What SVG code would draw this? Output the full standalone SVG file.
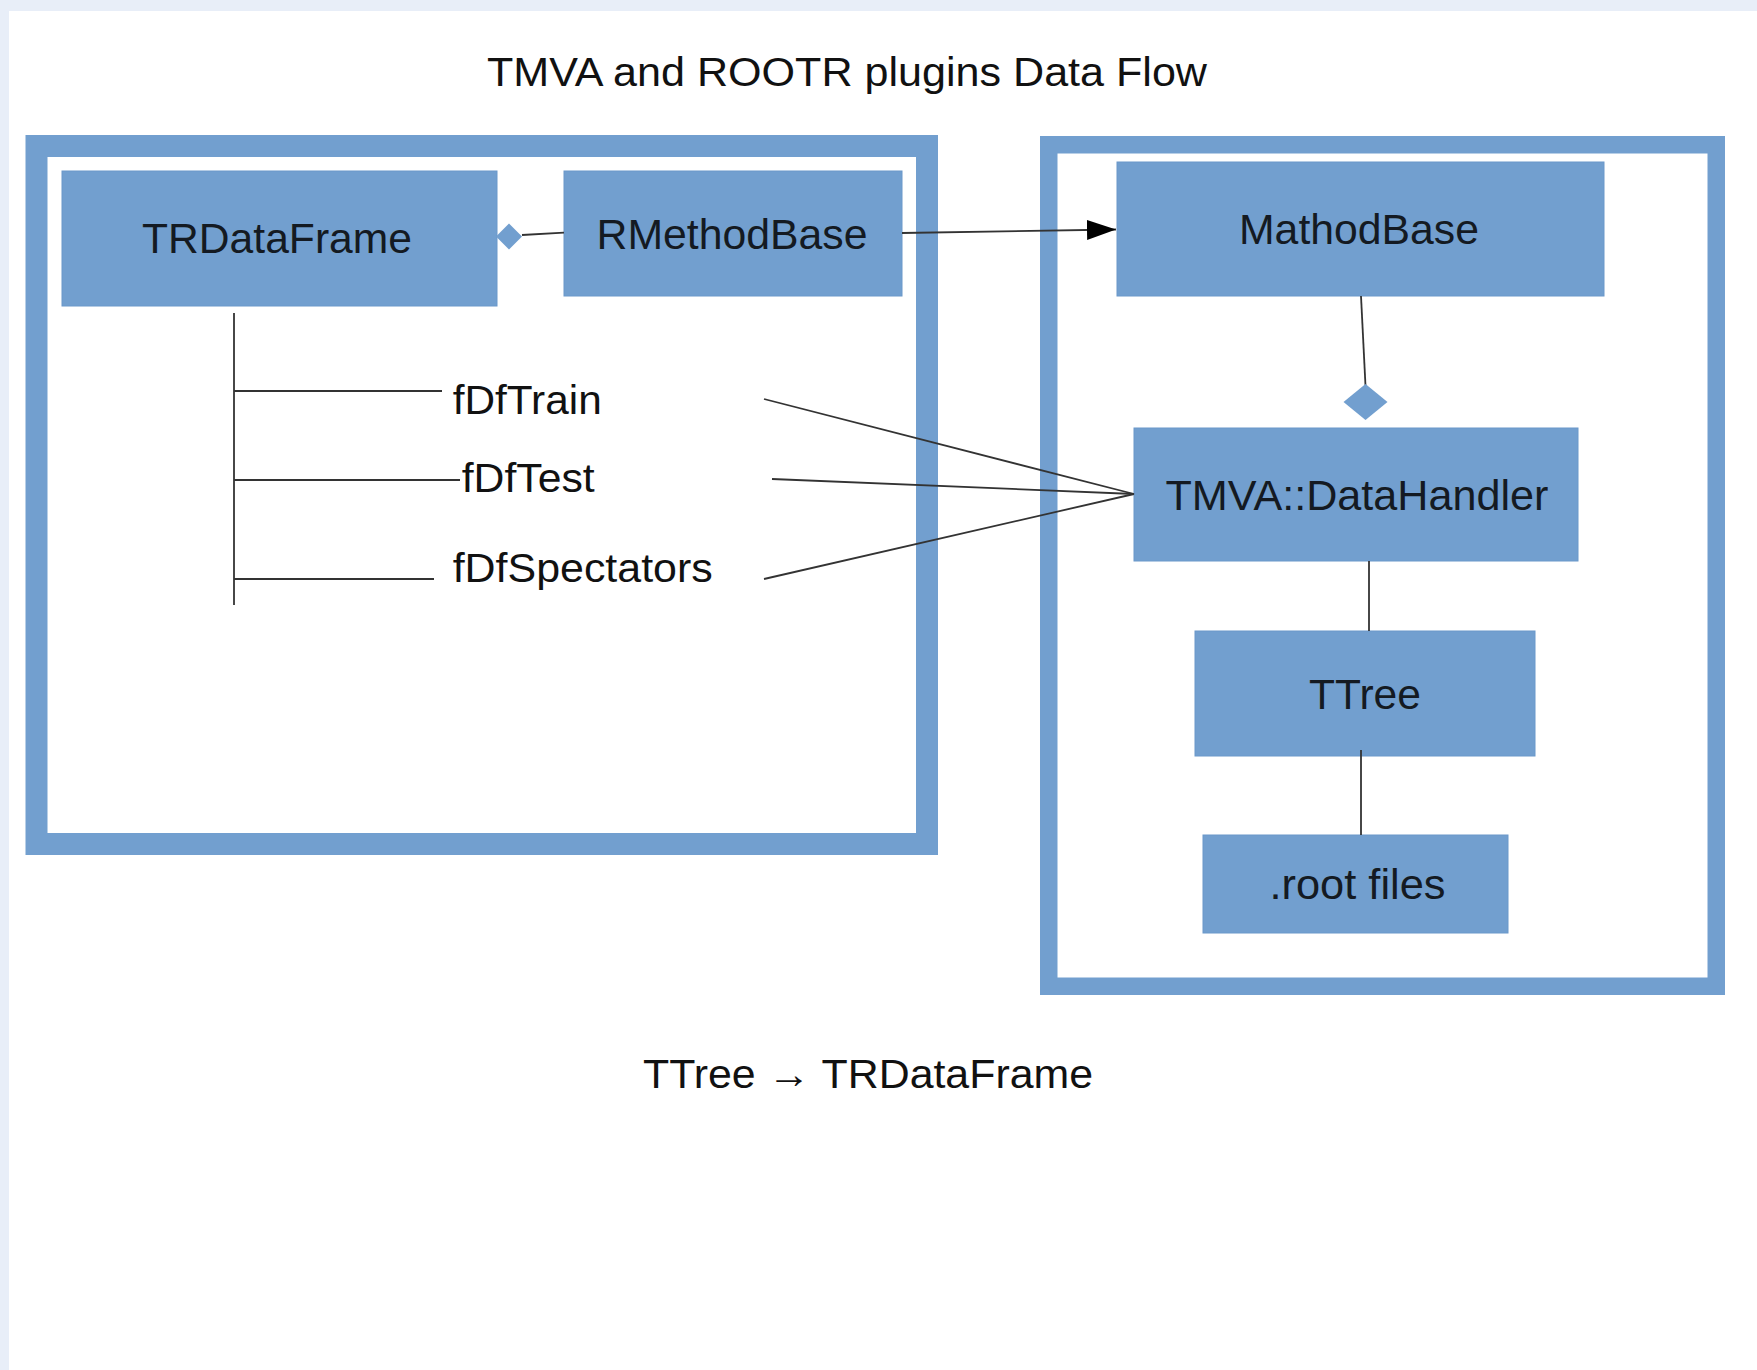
<svg xmlns="http://www.w3.org/2000/svg" width="1757" height="1370" viewBox="0 0 1757 1370">
  <defs>
    <style>
      .frame { fill: none; stroke: #729fcf; }
      .box { fill: #729fcf; stroke: #6b98ca; stroke-width: 1; }
      .lbl { font-family: "Liberation Sans", Arial, sans-serif; font-size: 42px; fill: #141a22; text-anchor: middle; }
      .txt { font-family: "Liberation Sans", Arial, sans-serif; font-size: 40px; fill: #111111; }
      .conn { fill: none; stroke: #333333; stroke-width: 1.8; }
      .dia { fill: #729fcf; stroke: none; }
    </style>
    <marker id="arrow" markerWidth="30" markerHeight="20" refX="29" refY="10" orient="auto" markerUnits="userSpaceOnUse">
      <path d="M0,0 L29,10 L0,20 Z" fill="#000000"/>
    </marker>
  </defs>

  <rect x="0" y="0" width="1757" height="1370" fill="#e8eef8"/>
  <rect x="9" y="11" width="1748" height="1359" fill="#ffffff"/>

  <text id="title" class="txt" x="847" y="86" font-size="41" text-anchor="middle" textLength="720" lengthAdjust="spacingAndGlyphs">TMVA and ROOTR plugins Data Flow</text>

  <g id="frame-rootr">
    <rect class="frame" x="36.5" y="146" width="890.5" height="698" stroke-width="22"/>
  </g>
  <g id="frame-tmva">
    <rect class="frame" x="1048.75" y="144.75" width="667.5" height="841.5" stroke-width="17.5"/>
  </g>

  <g id="node-trdataframe">
    <rect class="box" x="62" y="171" width="435" height="135"/>
    <text class="lbl" x="277" y="253" textLength="270" lengthAdjust="spacingAndGlyphs">TRDataFrame</text>
  </g>
  <g id="node-rmethodbase">
    <rect class="box" x="564" y="171" width="338" height="125"/>
    <text class="lbl" x="732" y="248.5" textLength="271" lengthAdjust="spacingAndGlyphs">RMethodBase</text>
  </g>
  <g id="node-mathodbase">
    <rect class="box" x="1117" y="162" width="487" height="134"/>
    <text class="lbl" x="1359" y="244" textLength="240" lengthAdjust="spacingAndGlyphs">MathodBase</text>
  </g>
  <g id="node-datahandler">
    <rect class="box" x="1134" y="428" width="444" height="133"/>
    <text class="lbl" x="1357" y="509.5" textLength="383" lengthAdjust="spacingAndGlyphs">TMVA::DataHandler</text>
  </g>
  <g id="node-ttree">
    <rect class="box" x="1195" y="631" width="340" height="125"/>
    <text class="lbl" x="1365" y="709" textLength="112" lengthAdjust="spacingAndGlyphs">TTree</text>
  </g>
  <g id="node-rootfiles">
    <rect class="box" x="1203" y="835" width="305" height="98"/>
    <text class="lbl" x="1357.5" y="899" textLength="176" lengthAdjust="spacingAndGlyphs">.root files</text>
  </g>

  <g id="label-fdftrain">
    <text class="txt" x="452.7" y="414.3" textLength="149" lengthAdjust="spacingAndGlyphs">fDfTrain</text>
  </g>
  <g id="label-fdftest">
    <text class="txt" x="461.7" y="492" textLength="133" lengthAdjust="spacingAndGlyphs">fDfTest</text>
  </g>
  <g id="label-fdfspectators">
    <text class="txt" x="452.7" y="582" textLength="260" lengthAdjust="spacingAndGlyphs">fDfSpectators</text>
  </g>

  <g id="connectors">
    <!-- TRDataFrame tree -->
    <line class="conn" x1="234" y1="313" x2="234" y2="605"/>
    <line class="conn" x1="234" y1="391" x2="442" y2="391"/>
    <line class="conn" x1="234" y1="480" x2="460" y2="480"/>
    <line class="conn" x1="234" y1="579" x2="434" y2="579"/>
    <!-- TRDataFrame diamond - RMethodBase -->
    <polygon class="dia" points="496,236.5 509,223.5 522,236.5 509,249.5"/>
    <line class="conn" x1="522" y1="235" x2="564" y2="232.7"/>
    <!-- RMethodBase -> MathodBase -->
    <line class="conn" x1="902" y1="233" x2="1116" y2="229.5" marker-end="url(#arrow)"/>
    <!-- MathodBase - diamond - DataHandler -->
    <line class="conn" x1="1361" y1="296" x2="1365.5" y2="386"/>
    <polygon class="dia" points="1343.5,402 1365.5,384 1387.5,402 1365.5,420"/>
    <!-- fDf* -> DataHandler -->
    <line class="conn" x1="764" y1="399" x2="1134" y2="494"/>
    <line class="conn" x1="772" y1="479" x2="1134" y2="494"/>
    <line class="conn" x1="764" y1="579" x2="1134" y2="494"/>
    <!-- DataHandler - TTree - root files -->
    <line class="conn" x1="1369" y1="561" x2="1369" y2="631"/>
    <line class="conn" x1="1361" y1="750" x2="1361" y2="835"/>
  </g>

  <text id="caption" class="txt" x="868" y="1088" font-size="42" text-anchor="middle" textLength="450" lengthAdjust="spacingAndGlyphs">TTree → TRDataFrame</text>
</svg>
